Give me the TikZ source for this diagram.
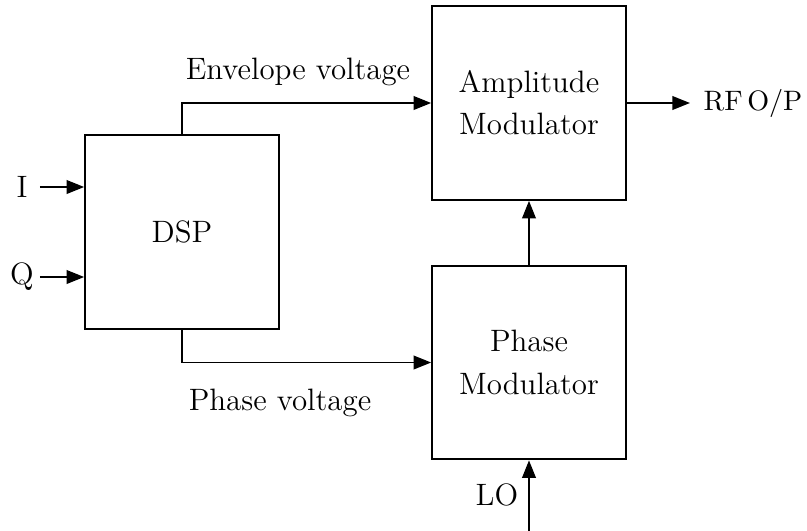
\documentclass[tikz,border=0pt]{standalone}
\usepackage{tikz}
\usetikzlibrary{arrows.meta,positioning,calc}

\begin{document}
\begin{tikzpicture}[x=0.0125cm, y=-0.0125cm, font=\fontsize{11}{13}\selectfont,
        block/.style={rectangle, draw, line width=0.7pt, minimum width=2.42cm, minimum height=2.42cm, align=center, inner sep=0pt},
        sig/.style={line width=0.7pt, -{Triangle[length=0.22cm, width=0.17cm]}}]

        \useasboundingbox (0,0) rectangle (807,531);

        \node[block] (dsp) at (182,232) {DSP};
        \node[block] (amp) at (529,103) {Amplitude\\[2pt]Modulator};
        \node[block] (phase) at (529,362.5) {Phase\\[2pt]Modulator};

        \coordinate (iin) at (40,187);
        \coordinate (qin) at (40,277);
        \coordinate (rfout) at (690,103);
        \coordinate (loin) at (529,531);

        \node (ilabel) at (22,187) {I};
        \node (qlabel) at (22,277) {Q};
        \node[anchor=west, inner sep=0pt, font=\normalsize] (rflabel) at (703,103) {RF\,O/P};
        \node (lolabel) at (497,495) {LO};
        \node (envlabel) at (298,72) {Envelope voltage};
        \node (phlabel) at (280,403) {Phase voltage};

        \draw[sig] (iin) -- (iin -| dsp.west);
        \draw[sig] (qin) -- (qin -| dsp.west);
        \draw[sig] (dsp.north) |- (amp.west);
        \draw[sig] (dsp.south) |- (phase.west);
        \draw[sig] (phase.north) -- (amp.south);
        \draw[sig] (amp.east) -- (rfout);
        \draw[sig] (loin) -- (phase.south);
    \end{tikzpicture}
\end{document}
